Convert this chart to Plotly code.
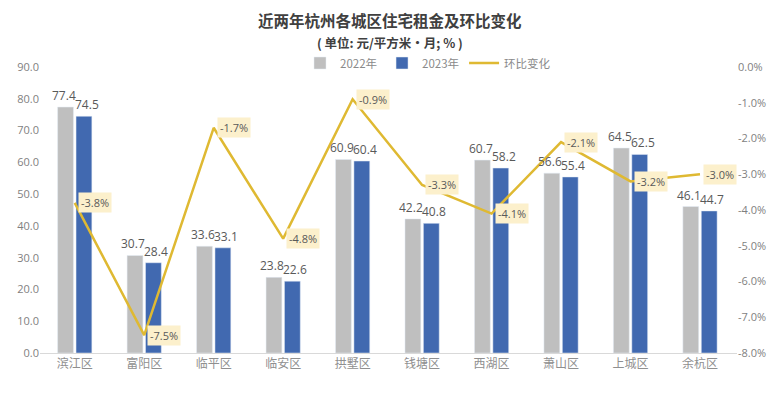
import plotly.graph_objects as go

districts = ["滨江区", "富阳区", "临平区", "临安区", "拱墅区", "钱塘区", "西湖区", "萧山区", "上城区", "余杭区"]
rent_2022 = [77.4, 30.7, 33.6, 23.8, 60.9, 42.2, 60.7, 56.6, 64.5, 46.1]
rent_2023 = [74.5, 28.4, 33.1, 22.6, 60.4, 40.8, 58.2, 55.4, 62.5, 44.7]
change_pct = [-3.8, -7.5, -1.7, -4.8, -0.9, -3.3, -4.1, -2.1, -3.2, -3.0]
left_ticks = [0, 10, 20, 30, 40, 50, 60, 70, 80, 90]
right_ticks = [0, -1, -2, -3, -4, -5, -6, -7, -8]

NUM_FONT = "Open Sans, Noto Sans CJK SC, sans-serif"
CJK_FONT = "Noto Sans CJK SC, sans-serif"

W, H = 780, 406
L, R, T, B = 40, 43, 67, 53
pw, ph = W - L - R, H - T - B


def px(x):
    return (x - L) / pw


def py(y):
    return (H - B - y) / ph


fig = go.Figure()
fig.add_trace(go.Bar(x=districts, y=rent_2022, name="2022年", marker=dict(color="#BFBFBF")))
fig.add_trace(go.Bar(x=districts, y=rent_2023, name="2023年", marker=dict(color="#4169B0")))
fig.add_trace(go.Scatter(
    x=districts, y=change_pct, name="环比变化", yaxis="y2",
    mode="lines", line=dict(color="#DFB932", width=2.5), cliponaxis=False,
))

annotations = []
for d, a, b in zip(districts, rent_2022, rent_2023):
    annotations.append(dict(
        x=d, y=a, xref="x", yref="y", text=f"{a:.1f}", showarrow=False,
        xanchor="center", yanchor="bottom", xshift=-11, yshift=1,
        font=dict(size=12, color="#595959", family=NUM_FONT),
    ))
    annotations.append(dict(
        x=d, y=b, xref="x", yref="y", text=f"{b:.1f}", showarrow=False,
        xanchor="center", yanchor="bottom", xshift=12, yshift=1,
        font=dict(size=12, color="#595959", family=NUM_FONT),
    ))
for d, v in zip(districts, change_pct):
    annotations.append(dict(
        x=d, y=v, xref="x", yref="y2", text=f"{v:.1f}%",
        showarrow=False, xanchor="left", yanchor="middle", xshift=3,
        bgcolor="#FCF0CC", borderpad=2,
        font=dict(size=11, color="#595959", family=NUM_FONT),
    ))
annotations.append(dict(
    x=px(390), y=py(20), xref="paper", yref="paper", xanchor="center", yanchor="middle",
    text="<b>近两年杭州各城区住宅租金及环比变化</b>",
    showarrow=False, font=dict(size=15.5, color="#404040", family=CJK_FONT),
))
annotations.append(dict(
    x=px(390), y=py(43), xref="paper", yref="paper", xanchor="center", yanchor="middle",
    text="<b>( 单位: 元/平方米·月; % )</b>",
    showarrow=False, font=dict(size=12.5, color="#404040", family=CJK_FONT),
))

fig.update_layout(
    annotations=annotations,
    width=W, height=H,
    margin=dict(l=L, r=R, t=T, b=B),
    paper_bgcolor="white", plot_bgcolor="white",
    barmode="group", bargap=0.47, bargroupgap=0.14,
    showlegend=True,
    legend=dict(orientation="h", x=px(428), xanchor="center", y=py(63), yanchor="middle",
                font=dict(size=11.5, color="#8a8a8a", family=CJK_FONT),
                bgcolor="rgba(0,0,0,0)"),
    xaxis=dict(type="category", showgrid=False, showline=True, linecolor="#D9D9D9", linewidth=1,
               ticks="", tickfont=dict(size=12, color="#8f8f8f", family=CJK_FONT)),
    yaxis=dict(range=[0, 90], tickvals=left_ticks, ticktext=[f"{v:.1f}" for v in left_ticks],
               showgrid=False, zeroline=False, showline=False, ticks="",
               tickfont=dict(size=11, color="#7f7f7f", family=NUM_FONT)),
    yaxis2=dict(range=[-8, 0], overlaying="y", side="right", tickvals=right_ticks,
                ticktext=[f"{v:.1f}%" for v in right_ticks],
                showgrid=False, zeroline=False, showline=False, ticks="",
                tickfont=dict(size=11, color="#7f7f7f", family=NUM_FONT)),
)

fig.write_html("out.html", config={"displayModeBar": False},
               post_script="document.body.style.margin='0';document.body.style.overflow='hidden';")
